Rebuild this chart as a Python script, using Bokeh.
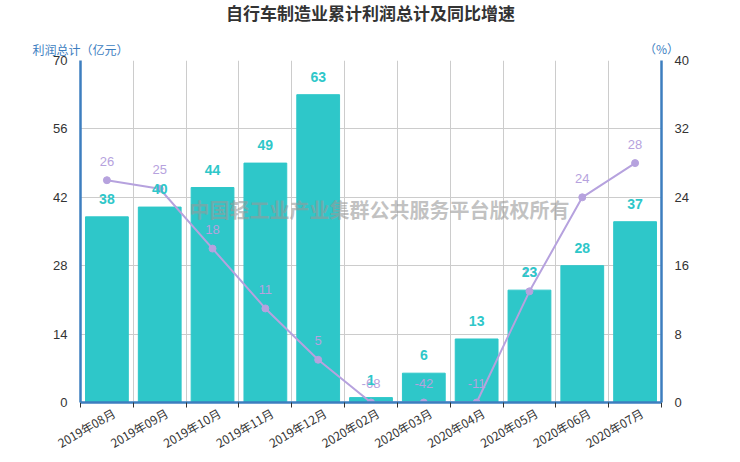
import numpy as np
from bokeh.plotting import figure
from bokeh.models import (Range1d, LinearAxis, FixedTicker, Label, LabelSet,
                          ColumnDataSource)
from bokeh.core.properties import value
from bokeh.embed import file_html
from bokeh.resources import INLINE

# ---- data ----
months = ["2019年08月", "2019年09月", "2019年10月", "2019年11月", "2019年12月",
          "2020年02月", "2020年03月", "2020年04月", "2020年05月", "2020年06月",
          "2020年07月"]
profit = [38, 40, 44, 49, 63, 1, 6, 13, 23, 28, 37]          # 利润总计（亿元）
growth = [26, 25, 18, 11, 5, -68, -42, -11, 13, 24, 28]      # 同比增速（%）
left_ticks = [0, 14, 28, 42, 56, 70]
right_ticks = [0, 8, 16, 24, 32, 40]

title_text = "自行车制造业累计利润总计及同比增速"
left_name = "利润总计（亿元）"
right_name = "（%）"
watermark = "中国轻工业产业集群公共服务平台版权所有"

# ---- styles ----
BAR = "#2EC7C9"
LINE = "#B6A2DE"
AXIS = "#3D7EBF"
GRID = "#CCCCCC"
TXT = "#333333"
CJK = "Noto Sans CJK SC"
NUM = "Liberation Sans"
LABEL_SHIFT = 0.13   # small rightward nudge of rotated month labels

n = len(months)
xc = np.arange(n) + 0.5
gclip = np.maximum(np.array(growth), right_ticks[0])  # right axis starts at 0

src = ColumnDataSource(dict(
    x=xc, profit=profit, plabel=[str(v) for v in profit],
    g=gclip, glabel=[str(v) for v in growth]))

p = figure(width=740, height=462, x_range=Range1d(0, n),
           y_range=Range1d(left_ticks[0], left_ticks[-1]),
           output_backend="svg", toolbar_location=None,
           min_border_left=80, min_border_right=79,
           min_border_top=60, min_border_bottom=60)
p.extra_y_ranges = {"pct": Range1d(right_ticks[0], right_ticks[-1])}
p.outline_line_color = None
p.background_fill_color = "white"

# grids
p.ygrid.ticker = FixedTicker(ticks=left_ticks)
p.xgrid.ticker = FixedTicker(ticks=list(range(n + 1)))
for g in (p.xgrid[0], p.ygrid[0]):
    g.grid_line_color = GRID
    g.grid_line_width = 1

# x axis
lab_pos = [float(v + LABEL_SHIFT) for v in xc]
xa = p.xaxis[0]
xa.ticker = FixedTicker(ticks=lab_pos, minor_ticks=list(range(n + 1)))
xa.major_label_overrides = {v: m for v, m in zip(lab_pos, months)}
xa.major_label_orientation = np.pi / 6
xa.major_tick_line_color = None
xa.minor_tick_line_color = TXT
xa.minor_tick_out = 5
xa.minor_tick_in = 0
xa.axis_line_color = AXIS
xa.axis_line_width = 2.5
xa.major_label_text_font = CJK
xa.major_label_text_font_size = "12px"
xa.major_label_text_color = TXT
xa.major_label_standoff = 3

# left axis
ya = p.yaxis[0]
ya.ticker = FixedTicker(ticks=left_ticks)
ya.major_tick_line_color = None
ya.minor_tick_line_color = None
ya.axis_line_color = AXIS
ya.axis_line_width = 2.5
ya.major_label_text_font = NUM
ya.major_label_text_font_size = "13px"
ya.major_label_text_color = TXT
ya.major_label_standoff = 7

# right axis
ra = LinearAxis(y_range_name="pct", ticker=FixedTicker(ticks=right_ticks))
ra.major_tick_line_color = None
ra.minor_tick_line_color = None
ra.axis_line_color = AXIS
ra.axis_line_width = 2.5
ra.major_label_text_font = NUM
ra.major_label_text_font_size = "13px"
ra.major_label_text_color = TXT
ra.major_label_standoff = 7
p.add_layout(ra, "right")

# bars
p.vbar(x="x", top="profit", bottom=0, width=0.81, color=BAR, source=src)

# line
p.line(x="x", y="g", y_range_name="pct", line_color=LINE, line_width=2,
       source=src)
p.scatter(x="x", y="g", y_range_name="pct", size=7, color=LINE, source=src)

# watermark
p.add_layout(Label(x=299, y=193, x_units="screen", y_units="screen",
                   text=watermark, text_font=CJK, text_font_size="20px",
                   text_font_style="bold", text_color="#999999",
                   text_alpha=0.6, text_align="center",
                   text_baseline="middle"))

# labels
p.add_layout(LabelSet(x="x", y="g", text="glabel", y_range_name="pct",
                      source=src, y_offset=19, text_align="center",
                      text_baseline="middle", text_font=value(NUM),
                      text_font_size="13px", text_color=LINE))
p.add_layout(LabelSet(x="x", y="profit", text="plabel", source=src,
                      y_offset=18, text_align="center",
                      text_baseline="middle", text_font=value(NUM),
                      text_font_size="14px", text_font_style="bold",
                      text_color=BAR))

# title and axis names (placed in the top side panel)
p.add_layout(Label(x=290, y=48, x_units="screen", y_units="screen",
                   text=title_text, text_font=CJK, text_font_size="17px",
                   text_font_style="bold", text_color=TXT,
                   text_align="center", text_baseline="middle"), "above")
p.add_layout(Label(x=-48, y=-14, x_units="screen", y_units="screen",
                   text=left_name, text_font=CJK, text_font_size="12px",
                   text_color=AXIS, text_align="left",
                   text_baseline="middle"), "above")
p.add_layout(Label(x=581, y=-30, x_units="screen", y_units="screen",
                   text=right_name, text_font=CJK, text_font_size="12px",
                   text_color=AXIS, text_align="center",
                   text_baseline="middle"), "above")

open("out.html", "w").write(file_html(p, INLINE))
